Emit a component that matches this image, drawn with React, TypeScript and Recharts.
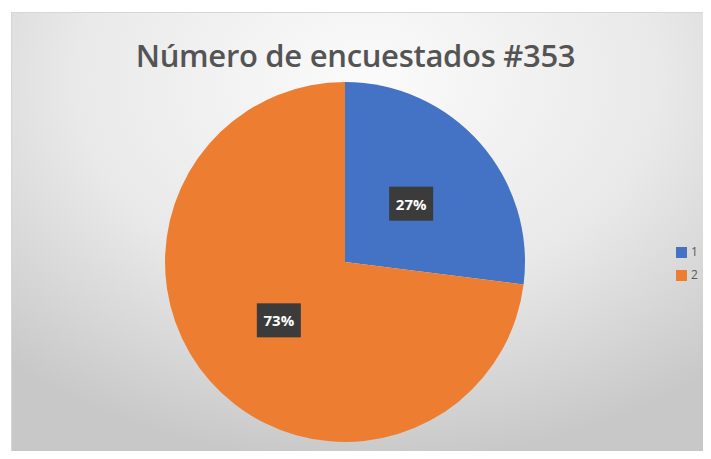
import { PieChart, Pie, Cell, Legend } from "recharts";

const categories = ["1", "2"];
const values = [27, 73];
const colors = ["#4472C4", "#ED7D31"];

const data = categories.map((name, i) => ({ name, value: values[i] }));

const RADIAN = Math.PI / 180;

const renderLabel = (props: any) => {
  const { cx, cy, midAngle, outerRadius, percent } = props;
  const r = outerRadius * 0.49;
  const x = cx + r * Math.cos(-midAngle * RADIAN);
  const y = cy + r * Math.sin(-midAngle * RADIAN);
  const w = 44;
  const h = 34;
  return (
    <g>
      <rect x={x - w / 2} y={y - h / 2} width={w} height={h} fill="#3b3b3b" />
      <text
        x={x}
        y={y}
        fill="#ffffff"
        textAnchor="middle"
        dominantBaseline="central"
        fontSize={15}
        fontWeight="bold"
        fontFamily="'Open Sans', sans-serif"
      >
        {`${Math.round(percent * 100)}%`}
      </text>
    </g>
  );
};

const App = () => {
  return (
    <div style={{ position: "relative", width: 711, height: 459, margin: -8, background: "#ffffff", overflow: "hidden" }}>
      <div
        style={{
          position: "absolute",
          left: 11,
          top: 12,
          width: 710,
          height: 450,
          border: "1px solid #d6d6d6",
          background: "radial-gradient(ellipse 75% 85% at 50% 15%, #fbfbfb 0%, #e9e9e9 55%, #c8c8c8 100%)",
        }}
      />
      <div
        style={{
          position: "absolute",
          left: 0,
          width: 711,
          top: 34,
          textAlign: "center",
          fontFamily: "'Open Sans', sans-serif",
          fontWeight: 600,
          fontSize: 31,
          letterSpacing: -0.3,
          color: "#545454",
        }}
      >
        Número de encuestados #353
      </div>
      <div style={{ position: "absolute", left: 0, top: 0 }}>
        <PieChart width={711} height={459}>
          <Pie
            data={data}
            dataKey="value"
            nameKey="name"
            cx={340}
            cy={257}
            outerRadius={180}
            startAngle={90}
            endAngle={-270}
            stroke="none"
            label={renderLabel}
            labelLine={false}
            isAnimationActive={false}
          >
            {data.map((entry, index) => (
              <Cell key={`cell-${index}`} fill={colors[index]} />
            ))}
          </Pie>
          <Legend
            layout="vertical"
            align="right"
            verticalAlign="middle"
            iconType="square"
            iconSize={11}
            formatter={(value) => (
              <span style={{ color: "#595959", fontSize: 12, fontFamily: "'Open Sans', sans-serif" }}>{value}</span>
            )}
            wrapperStyle={{ left: 676, top: 240, width: 40, lineHeight: "22px" }}
          />
        </PieChart>
      </div>
    </div>
  );
};

export default App;
